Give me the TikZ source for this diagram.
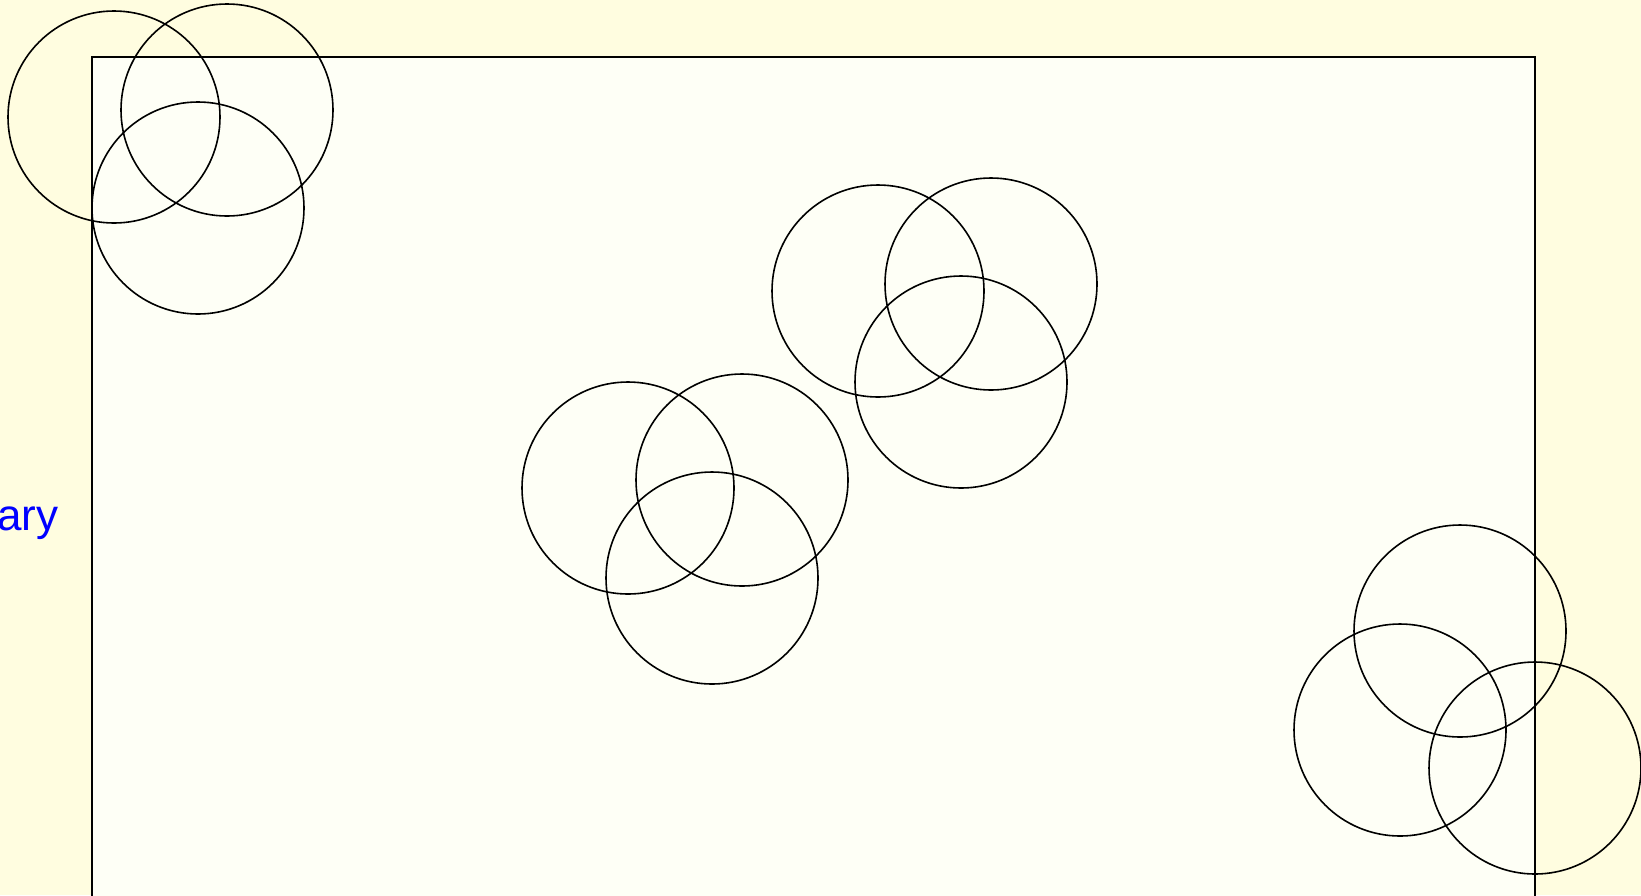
\documentclass[tikz,border=0pt]{standalone}
\usepackage{fontspec}
\setmainfont{Liberation Sans}
\usepackage{tikz}
\usepackage{xcolor}
\usetikzlibrary{positioning}
\definecolor{Paper}{HTML}{FFFDE0}
\definecolor{PaperSoft}{HTML}{FEFFF6}
\definecolor{Ink}{HTML}{000000}
\definecolor{Label}{HTML}{0000FF}
\tikzset{
  ring/.style={draw=Ink,circle,inner sep=0pt,minimum size=106pt,line width=0.8pt},
  frame/.style={draw=Ink,fill=PaperSoft,line width=1pt},
  tag/.style={anchor=base west,inner sep=0pt,text=Label,font=\fontsize{22}{26}\selectfont}
}

\begin{document}
\begin{tikzpicture}[x=0.5pt,y=-0.5pt]
  \fill[Paper] (0,0) rectangle (1641,895);
  \useasboundingbox (0,0) rectangle (1641,895);
  \clip (0,0) rectangle (1641,895);
  \draw[frame] (92,57) rectangle (1535,910);
  \node[tag] (boundary) at (-3,530) {ary};
  % top left group
  \node[ring] (tl1) at (114,117) {};
  \node[ring] (tl2) at (227,110) {};
  \node[ring] (tl3) at (198,208) {};
  % centre group
  \node[ring] (mid1) at (628,488) {};
  \node[ring] (mid2) at (742,480) {};
  \node[ring] (mid3) at (712,578) {};
  % upper right group
  \node[ring] (up1) at (878,291) {};
  \node[ring] (up2) at (991,284) {};
  \node[ring] (up3) at (961,382) {};
  % edge group
  \node[ring] (edge1) at (1460,631) {};
  \node[ring] (edge2) at (1400,730) {};
  \node[ring] (edge3) at (1535,768) {};
\end{tikzpicture}
\end{document}
